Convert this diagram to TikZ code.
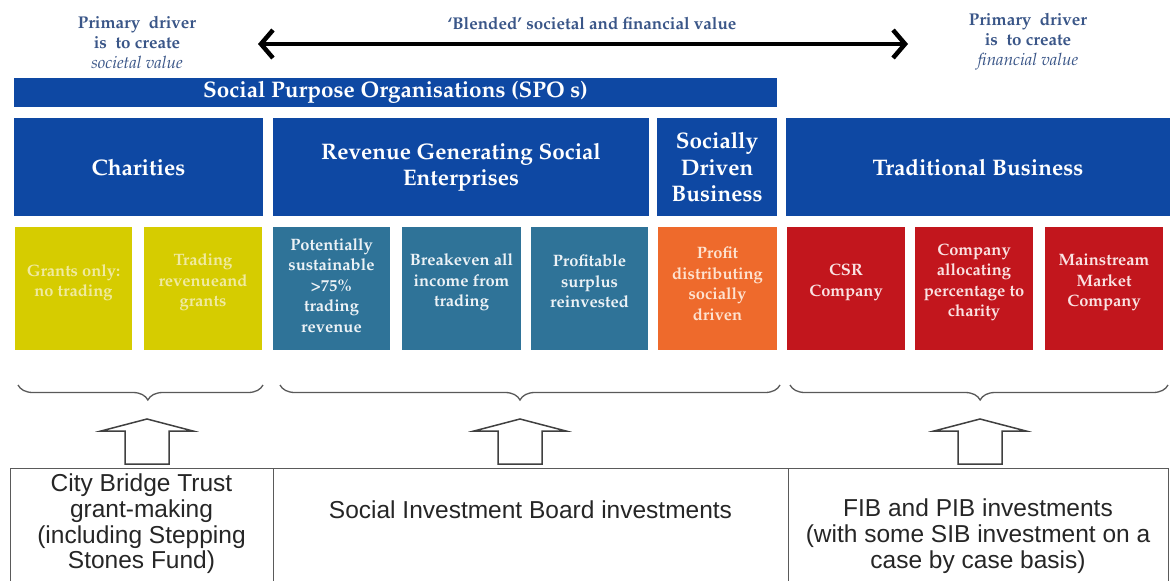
\documentclass[tikz,border=0pt]{standalone}
\usepackage[T1]{fontenc}
\usepackage{fontspec}
\newfontfamily\arialf{Liberation Sans}
\newcommand\palf{\fontencoding{T1}\fontfamily{ppl}\selectfont}
\usetikzlibrary{arrows.meta,decorations.pathreplacing}
\definecolor{topblue}{RGB}{58,86,136}
\definecolor{spoblue}{RGB}{14,72,163}
\definecolor{yel}{RGB}{214,204,0}
\definecolor{yeltext}{RGB}{240,234,160}
\definecolor{teal}{RGB}{47,115,152}
\definecolor{tealtext}{RGB}{236,242,246}
\definecolor{orng}{RGB}{238,106,44}
\definecolor{orngtext}{RGB}{253,226,208}
\definecolor{rd}{RGB}{194,22,29}
\definecolor{rdtext}{RGB}{250,226,226}
\definecolor{linegray}{RGB}{90,90,90}
\begin{document}
\begin{tikzpicture}[x=1pt,y=-1pt,
  topt/.style={text=topblue, font=\palf\bfseries\fontsize{17}{20}\selectfont, align=center, inner sep=0pt},
  bar/.style={fill=spoblue, draw=none, text=white, font=\palf\bfseries\fontsize{22.5}{26.5}\selectfont, align=center, inner sep=0pt},
  cell/.style={draw=none, inner sep=0pt, minimum height=123pt},
  celltext/.style={font=\palf\bfseries\fontsize{16.5}{20.5}\selectfont, align=center, inner sep=0pt},
  fund/.style={draw=linegray, line width=1.3pt, inner sep=0pt, anchor=north west, minimum height=140pt},
  fundtext/.style={font=\arialf\fontsize{24.5}{25.7}\selectfont, align=center, inner sep=0pt, text=black!85},
  brc/.style={draw=black!65, line width=1.3pt, decorate, decoration={brace, mirror, amplitude=15pt, aspect=#1}},
  blockarrow/.style={draw=black!75, line width=1.5pt, fill=white, line join=miter}
]
\useasboundingbox[fill=white] (0,0) rectangle (1173,581);

% top texts
\node[topt] (lefttxt) at (137,42) {Primary\ \ driver\\is\ \ to create\\{\mdseries\itshape societal value}};
\node[topt] (righttxt) at (1028,42) {Primary\ \ driver\\is\ \ to create\\{\mdseries\itshape financial value}};
\node[topt] (blend) at (592,23) {`Blended' societal and financial value};
\coordinate (aL) at (258,44);
\coordinate (aR) at (908,44);
\draw[line width=4.5pt, {Straight Barb[length=12pt,width=28pt]}-{Straight Barb[length=12pt,width=28pt]}] (aL) -- (aR);

% SPO bar
\node[bar, minimum width=763pt, minimum height=29pt] (spo) at (395.5,92.5) {Social Purpose Organisations (SPO s)};

% second row
\node[bar, minimum width=249pt, minimum height=98pt] (char) at (138.5,167) {Charities};
\node[bar, minimum width=376pt, minimum height=98pt] (rgse) at (461,167) {Revenue Generating Social\\Enterprises};
\node[bar, minimum width=120pt, minimum height=98pt] (sdb) at (717,167) {Socially\\Driven\\Business};
\node[bar, minimum width=384pt, minimum height=98pt] (tb) at (978,167) {Traditional Business};

% third row
\node[cell, fill=yel, minimum width=117pt] (y1) at (73.5,288.5) {};
\node[cell, fill=yel, minimum width=118pt] (y2) at (203,288.5) {};
\node[cell, fill=teal, minimum width=117pt] (t1) at (331.5,288.5) {};
\node[cell, fill=teal, minimum width=119pt] (t2) at (461.5,288.5) {};
\node[cell, fill=teal, minimum width=117pt] (t3) at (589.5,288.5) {};
\node[cell, fill=orng, minimum width=119pt] (o1) at (717.5,288.5) {};
\node[cell, fill=rd, minimum width=118pt] (r1) at (846,288.5) {};
\node[cell, fill=rd, minimum width=118pt] (r2) at (974,288.5) {};
\node[cell, fill=rd, minimum width=118pt] (r3) at (1104,288.5) {};

\node[celltext, text=yeltext] (y1t) at ([yshift=6pt]y1.center) {Grants only:\\no trading};
\node[celltext, text=yeltext] (y2t) at ([yshift=6pt]y2.center) {Trading\\revenueand\\grants};
\node[celltext, text=tealtext] (t1t) at ([yshift=3pt]t1.center) {Potentially\\sustainable\\>75\%\\trading\\revenue};
\node[celltext, text=tealtext] (t2t) at ([yshift=6pt]t2.center) {Breakeven all\\income from\\trading};
\node[celltext, text=tealtext] (t3t) at ([yshift=7pt]t3.center) {Profitable\\surplus\\reinvested};
\node[celltext, text=orngtext] (o1t) at ([yshift=5pt]o1.center) {Profit\\distributing\\socially\\driven};
\node[celltext, text=rdtext] (r1t) at ([yshift=6pt]r1.center) {CSR\\Company};
\node[celltext, text=rdtext] (r2t) at ([yshift=6pt]r2.center) {Company\\allocating\\percentage to\\charity};
\node[celltext, text=rdtext] (r3t) at ([yshift=6pt]r3.center) {Mainstream\\Market\\Company};

% braces
\coordinate (b1s) at (18,385);  \coordinate (b1e) at (263,385);
\coordinate (b2s) at (280,385); \coordinate (b2e) at (780,385);
\coordinate (b3s) at (790,385); \coordinate (b3e) at (1168,385);
\draw[brc=0.53] (b1s) -- (b1e);
\draw[brc=0.48] (b2s) -- (b2e);
\draw[brc=0.503] (b3s) -- (b3e);

% block arrows
\foreach \cx in {147,520,980}{
  \draw[blockarrow] (\cx,419) -- (\cx+46,431) -- (\cx+22,431) -- (\cx+22,464) -- (\cx-22,464) -- (\cx-22,431) -- (\cx-46,431) -- cycle;
}

% bottom boxes
\node[fund, minimum width=263pt] (f1) at (10,468) {};
\node[fund, minimum width=515pt] (f2) at (273,468) {};
\node[fund, minimum width=380pt] (f3) at (788,468) {};
\node[fundtext] (f1t) at (141.5,524) {City Bridge Trust\\grant-making\\(including Stepping\\Stones Fund)};
\node[fundtext] (f2t) at (530.5,510) {Social Investment Board investments};
\node[fundtext] (f3t) at (978,536) {FIB and PIB investments\\(with some SIB investment on a\\case by case basis)};
\end{tikzpicture}
\end{document}
